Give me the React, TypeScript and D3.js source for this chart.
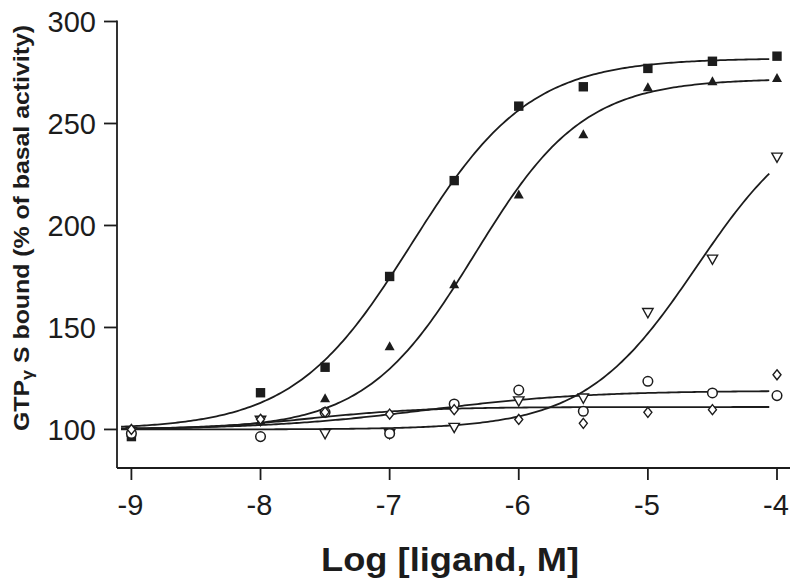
import React from "react";
import * as d3 from "d3";

// ---- data ----
const doses = [-9, -8, -7.5, -7, -6.5, -6, -5.5, -5, -4.5, -4];
const squareVals = [96.5, 118, 130.5, 175, 222, 258.5, 268, 277, 280.5, 283];
const triangleVals = [98, 104, 115, 140.5, 171, 215, 244.5, 267.5, 270.5, 272];
const downTriVals = [99, 104.5, 98, 98, 101, 114, 115.4, 157.3, 183.5, 233.5];
const circleVals = [98, 96.5, 108.4, 98, 112.5, 119.3, 108.9, 123.6, 117.9, 116.6];
const diamondVals = [100, 105, 108.5, 107.5, 109.7, 104.9, 103, 108.4, 109.7, 126.8];

// fitted sigmoid parameters (bottom, top, logEC50, hill) for each series
const fitBottom = [100, 100, 100, 100, 100];
const fitTop = [282, 272, 260, 119, 111];
const fitLogEC50 = [-6.83, -6.34, -4.62, -6.72, -7.6];
const fitHill = [0.95, 1.03, 1.0, 0.7, 1.0];
const fitRange = [-9.08, -4.06];

const xTicks = [-9, -8, -7, -6, -5, -4];
const yTicks = [100, 150, 200, 250, 300];

const seriesVals = [squareVals, triangleVals, downTriVals, circleVals, diamondVals];
const seriesShapes = ["square", "triangle", "downTriangle", "circle", "diamond"];

const W = 800;
const H = 588;
const ink = "#1c1c1c";
const FONT = "'Liberation Sans', Arial, Helvetica, sans-serif";

function Marker({ shape, cx, cy }: { shape: string; cx: number; cy: number }) {
  if (shape === "square") {
    return <rect x={cx - 4.7} y={cy - 4.7} width={9.4} height={9.4} fill={ink} />;
  }
  if (shape === "triangle") {
    return (
      <path
        d={`M${cx},${cy - 5.5} L${cx + 5},${cy + 3.5} L${cx - 5},${cy + 3.5} Z`}
        fill={ink}
      />
    );
  }
  if (shape === "downTriangle") {
    return (
      <path
        d={`M${cx - 5.2},${cy - 4} L${cx + 5.2},${cy - 4} L${cx},${cy + 5.2} Z`}
        fill="white"
        stroke={ink}
        strokeWidth={1.4}
      />
    );
  }
  if (shape === "circle") {
    return <circle cx={cx} cy={cy} r={4.8} fill="white" stroke={ink} strokeWidth={1.5} />;
  }
  return (
    <path
      d={`M${cx},${cy - 5} L${cx + 4},${cy} L${cx},${cy + 5} L${cx - 4},${cy} Z`}
      fill="white"
      stroke={ink}
      strokeWidth={1.4}
    />
  );
}

export default function App() {
  const x = d3.scaleLinear().domain([-9, -4]).range([131.4, 777]);
  const y = d3.scaleLinear().domain([81.1, 300]).range([468, 21.5]);

  const axisX = 117;
  const axisY = 468;
  const xEnd = 790;

  const line = d3
    .line<[number, number]>()
    .x((d) => x(d[0]))
    .y((d) => y(d[1]))
    .curve(d3.curveLinear);

  const sampleXs = d3.range(fitRange[0], fitRange[1] + 1e-9, 0.02);
  const curves = fitTop.map((top, i) =>
    sampleXs.map((lx) => {
      const v =
        fitBottom[i] +
        (top - fitBottom[i]) / (1 + Math.pow(10, (fitLogEC50[i] - lx) * fitHill[i]));
      return [lx, v] as [number, number];
    })
  );

  return (
    <svg
      width={W}
      height={H}
      viewBox={`0 0 ${W} ${H}`}
      style={{ position: "absolute", left: 0, top: 0, background: "white" }}
    >
      <rect x={0} y={0} width={W} height={H} fill="white" />

      {/* axes */}
      <line x1={axisX} y1={y(300) - 1} x2={axisX} y2={axisY} stroke={ink} strokeWidth={1.8} />
      <line x1={axisX} y1={axisY} x2={xEnd} y2={axisY} stroke={ink} strokeWidth={1.8} />

      {yTicks.map((t) => (
        <g key={"y" + t}>
          <line x1={axisX - 13} x2={axisX} y1={y(t)} y2={y(t)} stroke={ink} strokeWidth={1.8} />
          <text
            x={96}
            y={y(t) + 10.5}
            textAnchor="end"
            fontFamily={FONT}
            fontSize={29}
            fill={ink}
          >
            {t}
          </text>
        </g>
      ))}

      {xTicks.map((t) => (
        <g key={"x" + t}>
          <line x1={x(t)} x2={x(t)} y1={axisY} y2={axisY + 12} stroke={ink} strokeWidth={1.8} />
          <text
            x={x(t) - 1}
            y={515}
            textAnchor="middle"
            fontFamily={FONT}
            fontSize={29}
            fill={ink}
          >
            {t}
          </text>
        </g>
      ))}

      {/* axis titles */}
      <text
        x={450}
        y={571}
        textAnchor="middle"
        fontFamily={FONT}
        fontSize={34}
        fontWeight="bold"
        fill={ink}
        textLength={258}
        lengthAdjust="spacingAndGlyphs"
      >
        Log [ligand, M]
      </text>
      <text
        transform={`translate(29,228) rotate(-90)`}
        textAnchor="middle"
        fontFamily={FONT}
        fontSize={22}
        fontWeight="bold"
        fill={ink}
        textLength={406}
        lengthAdjust="spacingAndGlyphs"
      >
        <tspan>GTP</tspan>
        <tspan fontSize={16} dy={4}>γ</tspan>
        <tspan dy={-4}> S bound (% of basal activity)</tspan>
      </text>

      {/* fitted curves */}
      {curves.map((c, i) => (
        <path key={"c" + i} d={line(c) || ""} fill="none" stroke={ink} strokeWidth={1.8} />
      ))}

      {/* data points */}
      {seriesVals.map((vals, si) =>
        vals.map((v, di) => (
          <Marker key={`m${si}-${di}`} shape={seriesShapes[si]} cx={x(doses[di])} cy={y(v)} />
        ))
      )}
    </svg>
  );
}
